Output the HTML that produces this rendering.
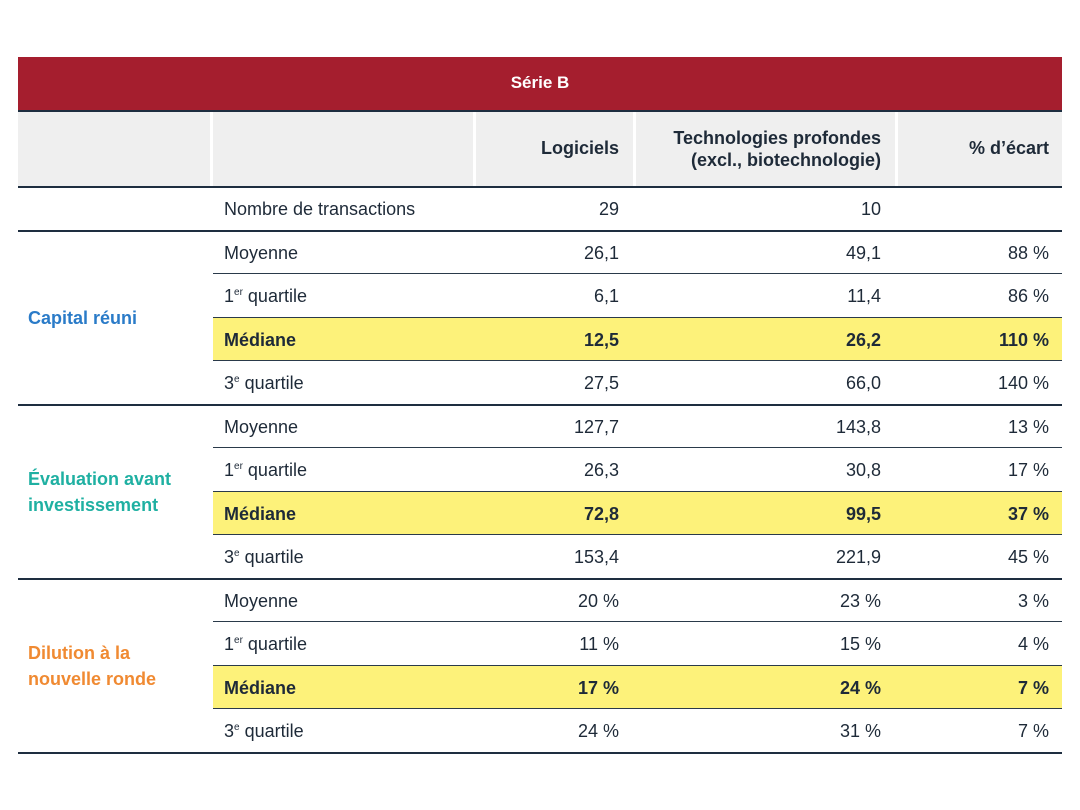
<!DOCTYPE html>
<html><head><meta charset="utf-8"><style>
body{margin:0;width:1080px;height:810px;background:#fff;position:relative;font-family:"Liberation Sans",sans-serif;color:#1e2a38;overflow:hidden}
div{position:absolute;box-sizing:border-box}
.t{font-size:18px;white-space:nowrap;line-height:20px}
.r{text-align:right}
.b{font-weight:bold}
sup{font-size:10px;vertical-align:7px;line-height:0}
</style></head><body>
<div style="left:18px;top:57px;width:1044px;height:54px;background:#a51e2e"></div>
<div class="t b" style="left:18px;top:73px;width:1044px;text-align:center;color:#fff;font-size:17px">Série B</div>
<div style="left:18px;top:112px;width:1044px;height:74px;background:#efefef"></div>
<div id="g"></div>
<script>
const rowLabels=["Nombre de transactions","Moyenne","1|er| quartile","Médiane","3|e| quartile","Moyenne","1|er| quartile","Médiane","3|e| quartile","Moyenne","1|er| quartile","Médiane","3|e| quartile"];
const logiciels=["29","26,1","6,1","12,5","27,5","127,7","26,3","72,8","153,4","20 %","11 %","17 %","24 %"];
const techno=["10","49,1","11,4","26,2","66,0","143,8","30,8","99,5","221,9","23 %","15 %","24 %","31 %"];
const ecart=["","88 %","86 %","110 %","140 %","13 %","17 %","37 %","45 %","3 %","4 %","7 %","7 %"];
const groups=[["Capital réuni","#2a7bc8",1,4],["Évaluation avant|investissement","#1fb0a2",5,8],["Dilution à la|nouvelle ronde","#f08a32",9,12]];
const top0=187,rh=43.5,b=document.body;
function mk(style,cls,html,name){const d=document.createElement('div');d.style.cssText=style;if(cls)d.className=cls;d.innerHTML=html||'';


b.appendChild(d);return d;}
// header separators
[210,473,633,895].forEach(x=>mk(`left:${x}px;top:112px;width:3px;height:74px;background:#fff`,'','','header-separator'));
mk(`left:473px;top:138px;width:146px`,'t b r','Logiciels','header-logiciels');
mk(`left:633px;top:127px;width:248px;line-height:22px`,'t b r','Technologies profondes<br>(excl., biotechnologie)','header-technologies');
mk(`left:895px;top:138px;width:154px`,'t b r','% d’écart','header-ecart');
rowLabels.forEach((lab,i)=>{
 const y=top0+i*rh, med=lab==="Médiane";
 if(med) mk(`left:213px;top:${y}px;width:849px;height:${rh}px;background:#fdf27a`,'','','median-highlight');
 const cls='t'+(med?' b':'');
 const ty=y+12;
 mk(`left:224px;top:${ty}px`,cls,lab.replace(/\|(.*?)\|/,'<sup>$1</sup>'),'row-label');
 mk(`left:473px;top:${ty}px;width:146px`,cls+' r',logiciels[i],'cell-logiciels');
 mk(`left:633px;top:${ty}px;width:248px`,cls+' r',techno[i],'cell-technologies');
 mk(`left:895px;top:${ty}px;width:154px`,cls+' r',ecart[i],'cell-ecart');
});
// lines
mk(`left:18px;top:110px;width:1044px;height:2px;background:#1e2e40`,'','','rule');
[0,1,5,9,13].forEach(i=>mk(`left:18px;top:${Math.round(top0+i*rh)-1}px;width:1044px;height:2px;background:#1e2e40`,'','','group-rule'));
[2,3,4,6,7,8,10,11,12].forEach(i=>mk(`left:213px;top:${Math.round(top0+i*rh)-1}px;width:849px;height:1px;background:#2a3a4a`,'','','row-rule'));
groups.forEach(g=>{
 const lines=g[0].split('|');const mid=top0+(g[2]+g[3]+1)/2*rh;
 mk(`left:28px;top:${mid-lines.length*13}px;color:${g[1]};line-height:26px`,'t b',lines.join('<br>'),'group-label');
});
</script>
</body></html>
